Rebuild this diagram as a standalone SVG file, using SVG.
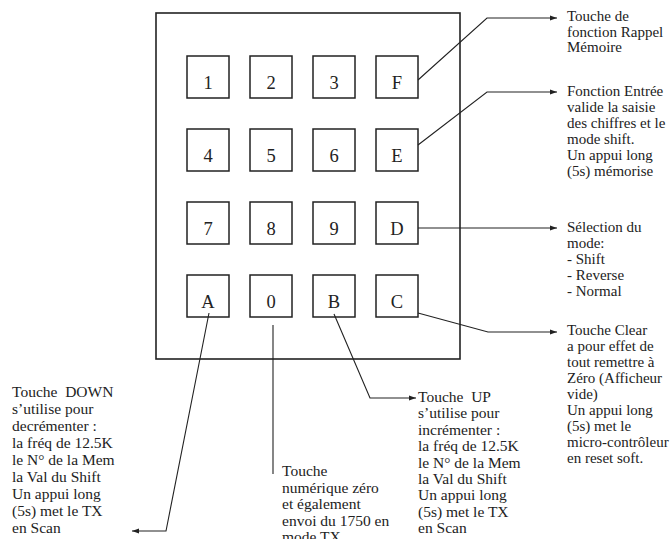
<svg xmlns="http://www.w3.org/2000/svg" width="672" height="539" viewBox="0 0 672 539">
<defs>
<marker id="ah" markerWidth="8" markerHeight="6" refX="7" refY="3" orient="auto" markerUnits="userSpaceOnUse">
<path d="M0,0.5 L7,3 L0,5.5 Z" fill="#222"/>
</marker>
<style>
.box{fill:none;stroke:#222;stroke-width:1.6}
.key{fill:none;stroke:#222;stroke-width:1.5}
.kt{font-family:"Liberation Serif","Times New Roman",serif;font-size:18.5px;fill:#222;text-anchor:middle}
.lbl{font-family:"Liberation Serif","Times New Roman",serif;font-size:15.5px;fill:#222;white-space:pre}
.rl{font-size:15px}
.con{fill:none;stroke:#222;stroke-width:1.1}
</style>
</defs>
<rect width="672" height="539" fill="#fff"/>
<g id="keypad"><rect class="box" x="156" y="13" width="304" height="346"/></g>
<g id="key-1"><rect class="key" x="187" y="56" width="42" height="42"/><text class="kt" x="208" y="89">1</text></g>
<g id="key-2"><rect class="key" x="250" y="56" width="42" height="42"/><text class="kt" x="271" y="89">2</text></g>
<g id="key-3"><rect class="key" x="313" y="56" width="42" height="42"/><text class="kt" x="334" y="89">3</text></g>
<g id="key-F"><rect class="key" x="376" y="56" width="42" height="42"/><text class="kt" x="397" y="89">F</text></g>
<g id="key-4"><rect class="key" x="187" y="129" width="42" height="42"/><text class="kt" x="208" y="162">4</text></g>
<g id="key-5"><rect class="key" x="250" y="129" width="42" height="42"/><text class="kt" x="271" y="162">5</text></g>
<g id="key-6"><rect class="key" x="313" y="129" width="42" height="42"/><text class="kt" x="334" y="162">6</text></g>
<g id="key-E"><rect class="key" x="376" y="129" width="42" height="42"/><text class="kt" x="397" y="162">E</text></g>
<g id="key-7"><rect class="key" x="187" y="202" width="42" height="42"/><text class="kt" x="208" y="235">7</text></g>
<g id="key-8"><rect class="key" x="250" y="202" width="42" height="42"/><text class="kt" x="271" y="235">8</text></g>
<g id="key-9"><rect class="key" x="313" y="202" width="42" height="42"/><text class="kt" x="334" y="235">9</text></g>
<g id="key-D"><rect class="key" x="376" y="202" width="42" height="42"/><text class="kt" x="397" y="235">D</text></g>
<g id="key-A"><rect class="key" x="187" y="275" width="42" height="42"/><text class="kt" x="208" y="308">A</text></g>
<g id="key-0"><rect class="key" x="250" y="275" width="42" height="42"/><text class="kt" x="271" y="308">0</text></g>
<g id="key-B"><rect class="key" x="313" y="275" width="42" height="42"/><text class="kt" x="334" y="308">B</text></g>
<g id="key-C"><rect class="key" x="376" y="275" width="42" height="42"/><text class="kt" x="397" y="308">C</text></g>
<g id="connectors">
<path class="con" d="M418,80 L487,18 L557,18" marker-end="url(#ah)"/>
<path class="con" d="M418,145 L487,92 L557,92" marker-end="url(#ah)"/>
<path class="con" d="M418,228 L557,228" marker-end="url(#ah)"/>
<path class="con" d="M418,313 L488,332 L557,332" marker-end="url(#ah)"/>
<path class="con" d="M209,313 L166,531 L132,531" marker-end="url(#ah)"/>
<path class="con" d="M273,325 L273,474"/>
<path class="con" d="M334,314 L370,398 L416,398" marker-end="url(#ah)"/>
</g>
<g id="note-F"><text class="lbl rl"><tspan x="567" y="21">Touche de</tspan><tspan x="567" y="36.5">fonction Rappel</tspan><tspan x="567" y="52">Mémoire</tspan></text></g>
<g id="note-E"><text class="lbl rl"><tspan x="567" y="96">Fonction Entrée</tspan><tspan x="567" y="112">valide la saisie</tspan><tspan x="567" y="128">des chiffres et le</tspan><tspan x="567" y="144">mode shift.</tspan><tspan x="567" y="160">Un appui long</tspan><tspan x="567" y="176">(5s) mémorise</tspan></text></g>
<g id="note-D"><text class="lbl rl"><tspan x="567" y="232">Sélection du</tspan><tspan x="567" y="248">mode:</tspan><tspan x="567" y="264">- Shift</tspan><tspan x="567" y="280">- Reverse</tspan><tspan x="567" y="296">- Normal</tspan></text></g>
<g id="note-C"><text class="lbl rl"><tspan x="567" y="335">Touche Clear</tspan><tspan x="567" y="351">a pour effet de</tspan><tspan x="567" y="367">tout remettre à</tspan><tspan x="567" y="383">Zéro (Afficheur</tspan><tspan x="567" y="399">vide)</tspan><tspan x="567" y="415">Un appui long</tspan><tspan x="567" y="431">(5s) met le</tspan><tspan x="567" y="447">micro-contrôleur</tspan><tspan x="567" y="463">en reset soft.</tspan></text></g>
<g id="note-A"><text class="lbl"><tspan x="12" y="397">Touche  DOWN</tspan><tspan x="12" y="414">s’utilise pour</tspan><tspan x="12" y="431">decrémenter :</tspan><tspan x="12" y="448">la fréq de 12.5K</tspan><tspan x="12" y="465">le N° de la Mem</tspan><tspan x="12" y="482">la Val du Shift</tspan><tspan x="12" y="499">Un appui long</tspan><tspan x="12" y="516">(5s) met le TX</tspan><tspan x="12" y="533">en Scan</tspan></text></g>
<g id="note-0"><text class="lbl"><tspan x="282" y="476">Touche</tspan><tspan x="282" y="492.5">numérique zéro</tspan><tspan x="282" y="509">et également</tspan><tspan x="282" y="525.5">envoi du 1750 en</tspan><tspan x="282" y="542">mode TX</tspan></text></g>
<g id="note-B"><text class="lbl"><tspan x="418" y="402">Touche  UP</tspan><tspan x="418" y="418.4">s’utilise pour</tspan><tspan x="418" y="434.8">incrémenter :</tspan><tspan x="418" y="451.2">la fréq de 12.5K</tspan><tspan x="418" y="467.6">le N° de la Mem</tspan><tspan x="418" y="484">la Val du Shift</tspan><tspan x="418" y="500.4">Un appui long</tspan><tspan x="418" y="516.8">(5s) met le TX</tspan><tspan x="418" y="533.2">en Scan</tspan></text></g>
</svg>
